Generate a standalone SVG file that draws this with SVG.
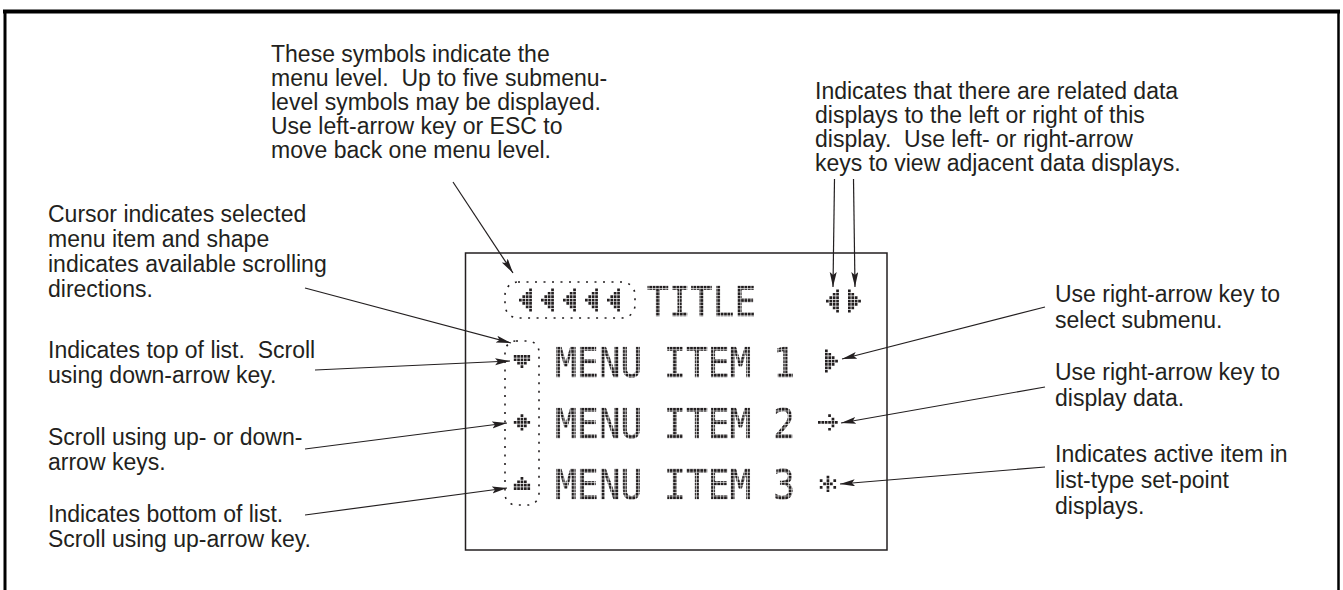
<svg xmlns="http://www.w3.org/2000/svg" xmlns:xlink="http://www.w3.org/1999/xlink" width="1343" height="590" viewBox="0 0 1343 590">
<style>
.lbl{font-family:"Liberation Sans",Arial,sans-serif;font-size:23px;fill:#231f20;white-space:pre}
.lcd{font-family:"DejaVu Sans Mono",monospace;font-size:41px;fill:#231f20;stroke:#231f20;stroke-width:0.6}
.dm{fill:none;stroke:#231f20;stroke-width:2.7;stroke-dasharray:2.7 0.7}
.con{fill:none;stroke:#231f20;stroke-width:1.2}
.dot{fill:none;stroke:#231f20;stroke-width:1.6;stroke-dasharray:2 6.5}
.frame{fill:none;stroke:#000}
</style>
<defs>
<marker id="ah" markerUnits="userSpaceOnUse" markerWidth="16" markerHeight="8" refX="15" refY="3.5" orient="auto">
<path d="M0,0 L15,3.5 L0,7 L3,3.5 z" fill="#231f20"/>
</marker>
<pattern id="dotpat" patternUnits="userSpaceOnUse" width="3.4" height="3.4">
<rect width="2.8" height="2.8" fill="#fff"/>
</pattern>
<mask id="dotmask" maskUnits="userSpaceOnUse" x="0" y="0" width="1343" height="590">
<rect width="1343" height="590" fill="url(#dotpat)"/>
</mask>
<path id="s-left" class="dm" d="M1.35 10.2v2.7M4.75 6.8v9.5M8.15 3.4v16.3M11.55 0v23.1"/>
<path id="s-right" class="dm" d="M1.35 0v23.1M4.75 3.4v16.3M8.15 6.8v9.5M11.55 10.2v2.7"/>
<path id="s-down" class="dm" d="M1.35 0v6.1M4.75 0v9.5M8.15 0v12.9M11.55 0v9.5M14.95 0v6.1"/>
<path id="s-up" class="dm" d="M1.35 6.8v6.1M4.75 3.4v9.5M8.15 0v12.9M11.55 3.4v9.5M14.95 6.8v6.1"/>
<path id="s-updown" class="dm" d="M1.35 6.8v2.7M4.75 3.4v9.5M8.15 0v16.3M11.55 3.4v9.5M14.95 6.8v2.7"/>
<path id="s-arrow" class="dm" d="M1.35 6.8v2.7M4.75 6.8v2.7M8.15 6.8v2.7M11.55 0v2.7M11.55 6.8v2.7M11.55 13.6v2.7M14.95 3.4v9.5M18.35 6.8v2.7"/>
<path id="s-star" class="dm" d="M1.35 3.4v2.7M1.35 10.2v2.7M4.75 6.8v2.7M8.15 0v16.3M11.55 6.8v2.7M14.95 3.4v2.7M14.95 10.2v2.7"/>
</defs>
<rect width="1343" height="590" fill="#fff"/>
<g id="frame">
<path class="frame" d="M3 11.5H1340" stroke-width="4"/>
<path class="frame" d="M5 10V590" stroke-width="3"/>
<path class="frame" d="M1338.5 10V590" stroke-width="2.5"/>
</g>

<g id="lcd-display">
<rect x="465.5" y="253" width="421.5" height="297" fill="none" stroke="#231f20" stroke-width="1.5"/>
<rect class="dot" x="505" y="282" width="130" height="36" rx="13"/>
<rect class="dot" x="505" y="341" width="34" height="164" rx="11"/>
<g mask="url(#dotmask)">
<text class="lcd" x="647" y="316" textLength="109" lengthAdjust="spacingAndGlyphs">TITLE</text>
<text class="lcd" x="555" y="377" textLength="240" lengthAdjust="spacingAndGlyphs">MENU ITEM 1</text>
<text class="lcd" x="555" y="438" textLength="240" lengthAdjust="spacingAndGlyphs">MENU ITEM 2</text>
<text class="lcd" x="555" y="499" textLength="240" lengthAdjust="spacingAndGlyphs">MENU ITEM 3</text>
</g>
<use href="#s-left" x="519" y="288.5"/>
<use href="#s-left" x="541" y="288.5"/>
<use href="#s-left" x="563" y="288.5"/>
<use href="#s-left" x="585" y="288.5"/>
<use href="#s-left" x="607" y="288.5"/>
<use href="#s-left" x="826" y="289.5"/>
<use href="#s-right" x="848" y="289.5"/>
<use href="#s-right" x="825" y="349.5"/>
<use href="#s-down" x="513.8" y="355"/>
<use href="#s-updown" x="513.8" y="414.3"/>
<use href="#s-up" x="513.8" y="477"/>
<use href="#s-arrow" x="818" y="414.3"/>
<use href="#s-star" x="819.8" y="475.8"/>
</g>

<g id="connectors">
<line class="con" x1="453" y1="182" x2="513" y2="273" marker-end="url(#ah)"/>
<line class="con" x1="834.5" y1="179" x2="833" y2="287" marker-end="url(#ah)"/>
<line class="con" x1="853.5" y1="179" x2="855" y2="287" marker-end="url(#ah)"/>
<line class="con" x1="305" y1="288" x2="511" y2="343" marker-end="url(#ah)"/>
<line class="con" x1="315" y1="370" x2="510" y2="361" marker-end="url(#ah)"/>
<line class="con" x1="305" y1="449" x2="507" y2="423" marker-end="url(#ah)"/>
<line class="con" x1="305" y1="515" x2="507" y2="488" marker-end="url(#ah)"/>
<line class="con" x1="1045" y1="307" x2="842" y2="359" marker-end="url(#ah)"/>
<line class="con" x1="1045" y1="387" x2="841" y2="423" marker-end="url(#ah)"/>
<line class="con" x1="1045" y1="467" x2="840" y2="484" marker-end="url(#ah)"/>
</g>

<g id="label-menu-level">
<text class="lbl" x="271" y="62">These symbols indicate the</text>
<text class="lbl" x="271" y="86">menu level.  Up to five submenu-</text>
<text class="lbl" x="271" y="110">level symbols may be displayed.</text>
<text class="lbl" x="271" y="134">Use left-arrow key or ESC to</text>
<text class="lbl" x="271" y="158">move back one menu level.</text>
</g>
<g id="label-related">
<text class="lbl" x="815" y="99">Indicates that there are related data</text>
<text class="lbl" x="815" y="123">displays to the left or right of this</text>
<text class="lbl" x="815" y="147">display.  Use left- or right-arrow</text>
<text class="lbl" x="815" y="171">keys to view adjacent data displays.</text>
</g>
<g id="label-cursor">
<text class="lbl" x="48" y="222">Cursor indicates selected</text>
<text class="lbl" x="48" y="247">menu item and shape</text>
<text class="lbl" x="48" y="272">indicates available scrolling</text>
<text class="lbl" x="48" y="297">directions.</text>
</g>
<g id="label-top">
<text class="lbl" x="48" y="358">Indicates top of list.  Scroll</text>
<text class="lbl" x="48" y="383">using down-arrow key.</text>
</g>
<g id="label-updown">
<text class="lbl" x="48" y="445">Scroll using up- or down-</text>
<text class="lbl" x="48" y="470">arrow keys.</text>
</g>
<g id="label-bottom">
<text class="lbl" x="48" y="522">Indicates bottom of list.</text>
<text class="lbl" x="48" y="547">Scroll using up-arrow key.</text>
</g>
<g id="label-submenu">
<text class="lbl" x="1055" y="302">Use right-arrow key to</text>
<text class="lbl" x="1055" y="328">select submenu.</text>
</g>
<g id="label-data">
<text class="lbl" x="1055" y="380">Use right-arrow key to</text>
<text class="lbl" x="1055" y="406">display data.</text>
</g>
<g id="label-active">
<text class="lbl" x="1055" y="462">Indicates active item in</text>
<text class="lbl" x="1055" y="488">list-type set-point</text>
<text class="lbl" x="1055" y="514">displays.</text>
</g>
</svg>
